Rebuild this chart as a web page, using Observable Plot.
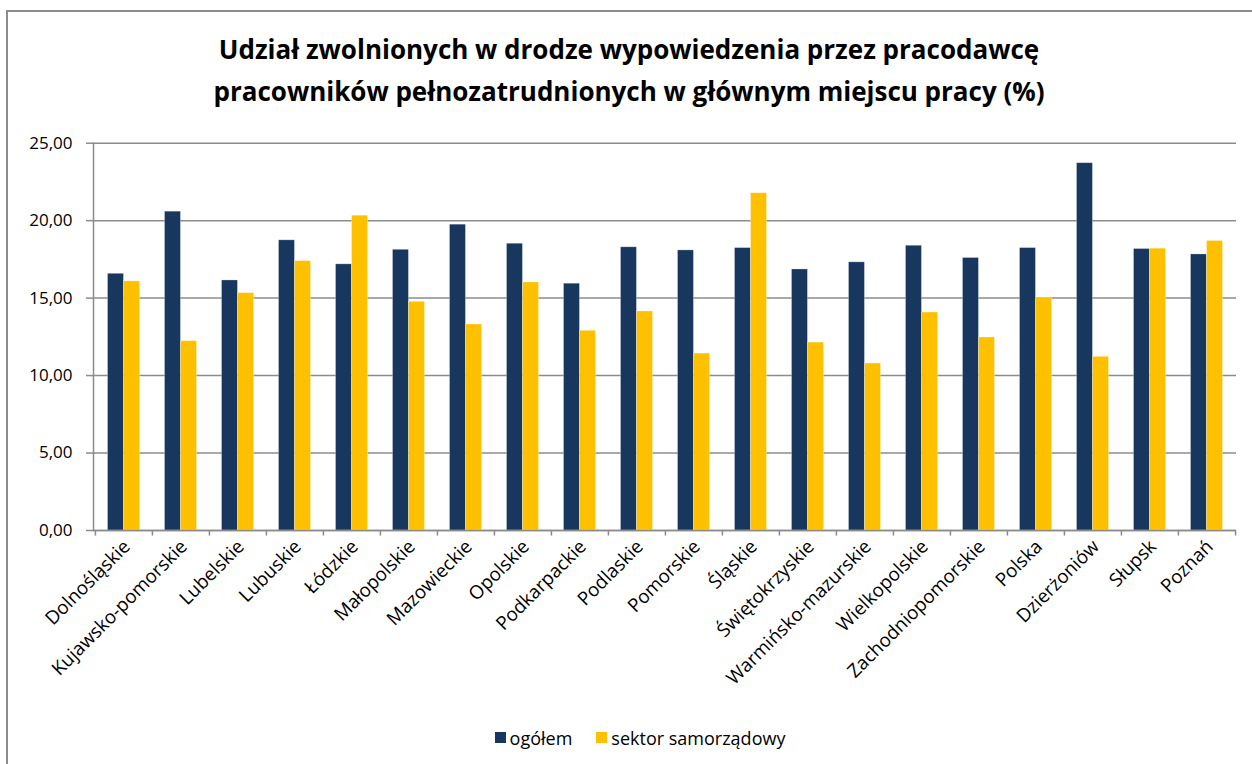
<!DOCTYPE html>
<html>
<head>
<meta charset="utf-8">
<script src="https://cdn.jsdelivr.net/npm/d3@7"></script>
<script src="https://cdn.jsdelivr.net/npm/@observablehq/plot@0.6"></script>
<style>
  html, body { margin: 0; padding: 0; background: #fff; }
  #chart { position: relative; width: 1252px; height: 764px; overflow: hidden; font-family: "Open Sans", Lato, sans-serif; color: #000; }
  #border { position: absolute; left: 6px; top: 10px; width: 1300px; height: 800px; border-left: 2px solid #8c8c8c; border-top: 2px solid #8c8c8c; box-sizing: border-box; }
  #title { position: absolute; left: 0; top: 28px; width: 1258px; text-align: center; font-weight: bold; font-size: 26px; line-height: 42px; }
  #plot { position: absolute; left: 0; top: 120px; }
  #legend { position: absolute; top: 724px; left: 0; width: 1280px; text-align: center; font-size: 18px; }
  #legend span.item { display: inline-flex; align-items: center; margin: 0 12px; }
  #legend span.sw { display: inline-block; width: 11px; height: 11px; margin-right: 4px; }
</style>
</head>
<body>
<div id="chart">
  <div id="border"></div>
  <div id="title">Udział zwolnionych w drodze wypowiedzenia przez pracodawcę<br>pracowników pełnozatrudnionych w głównym miejscu pracy (%)</div>
  <div id="plot"></div>
  <div id="legend"></div>
</div>
<script>
const categories = ["Dolnośląskie","Kujawsko-pomorskie","Lubelskie","Lubuskie","Łódzkie","Małopolskie","Mazowieckie","Opolskie","Podkarpackie","Podlaskie","Pomorskie","Śląskie","Świętokrzyskie","Warmińsko-mazurskie","Wielkopolskie","Zachodniopomorskie","Polska","Dzierżoniów","Słupsk","Poznań"];
const ogolem = [16.57,20.58,16.14,18.73,17.18,18.12,19.74,18.51,15.93,18.28,18.08,18.23,16.85,17.31,18.38,17.59,18.23,23.71,18.17,17.82];
const sektor = [16.08,12.22,15.32,17.39,20.32,14.76,13.30,16.01,12.89,14.14,11.42,21.77,12.13,10.78,14.07,12.46,15.04,11.21,18.19,18.69];
const seriesNames = ["ogółem","sektor samorządowy"];
const seriesColors = ["#17375E","#FFC000"];
const yTicks = [0,5,10,15,20,25];

const rowsA = categories.map((c,i)=>({cat:c, v:ogolem[i]}));
const rowsB = categories.map((c,i)=>({cat:c, v:sektor[i]}));

const W = 1252, H = 600;
const mL = 93, mR = 16, mT = 22.7, mB = 190;
const step = (W - mL - mR) / categories.length;
const half = step / 2;
const gap = 12.5;
const grid = "#8c8c8c";

const fmt = d => d3.format(".2f")(d).replace(".", ",");

const chart = Plot.plot({
  width: W, height: H,
  marginLeft: mL, marginRight: mR, marginTop: mT, marginBottom: mB,
  style: {fontFamily: "'Open Sans', Lato, sans-serif", fontSize: "17px", color: "#000", background: "transparent"},
  x: {domain: categories, padding: 0, label: null},
  y: {domain: [0, 25], label: null},
  marks: [
    Plot.gridY(yTicks, {stroke: grid, strokeOpacity: 1, strokeWidth: 1.5}),
    Plot.barY(rowsA, {x: "cat", y: "v", fill: seriesColors[0], insetLeft: gap, insetRight: half, stroke: "#ffffff", strokeOpacity: 0.35, strokeWidth: 0.8}),
    Plot.barY(rowsB, {x: "cat", y: "v", fill: seriesColors[1], insetLeft: half, insetRight: gap, stroke: "#ffffff", strokeOpacity: 0.35, strokeWidth: 0.8}),
    Plot.frame({anchor: "left", stroke: grid, strokeWidth: 1.5}),
    Plot.ruleY([0], {stroke: grid, strokeWidth: 1.5}),
    Plot.ruleX(categories, {x: d => d, dx: -half, y1: 0, y2: -0.36, stroke: grid, strokeWidth: 1.5}),
    Plot.ruleX([categories[categories.length-1]], {x: d => d, dx: half, y1: 0, y2: -0.36, stroke: grid, strokeWidth: 1.5}),
    Plot.axisY(yTicks, {tickSize: 7, tickPadding: 14, stroke: grid, strokeWidth: 1.5, tickFormat: fmt, fontSize: 17, fill: "#000"}),
    Plot.axisX({tickSize: 0, tickPadding: 13, tickRotate: -45, fontSize: 18.8, fill: "#000", label: null, dx: 3})
  ]
});
document.getElementById("plot").appendChild(chart);

const leg = d3.select("#legend");
seriesNames.forEach((n,i)=>{
  const it = leg.append("span").attr("class","item");
  it.append("span").attr("class","sw").style("background", seriesColors[i]);
  it.append("span").text(n);
});
</script>
</body>
</html>
